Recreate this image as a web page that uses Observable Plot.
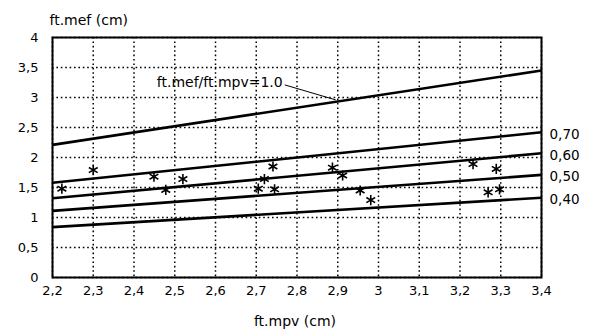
<!DOCTYPE html>
<html><head><meta charset="utf-8">
<script src="https://cdn.jsdelivr.net/npm/d3@7"></script>
<script src="https://cdn.jsdelivr.net/npm/@observablehq/plot@0.6"></script>
<style>
body{margin:0;background:#fff;}
svg{font-family:"DejaVu Sans",sans-serif;}
</style></head>
<body><div id="chart"></div>
<script>
// Scatter points (ft.mpv, ft.mef)
const ptX = [2.223, 2.30, 2.449, 2.478, 2.52, 2.705, 2.72, 2.741, 2.745, 2.887, 2.912, 2.955, 2.981, 3.232, 3.289, 3.269, 3.297];
const ptY = [1.48, 1.79, 1.68, 1.46, 1.64, 1.48, 1.64, 1.85, 1.47, 1.83, 1.70, 1.45, 1.29, 1.89, 1.81, 1.42, 1.47];
// Ratio lines, endpoints
const lineRatio = ["1.0", "0,70", "0,60", "0,50", "0,40"];
const lineX0 = [2.2, 2.2, 2.2, 2.2, 2.2];
const lineX1 = [3.4, 3.4, 3.4, 3.4, 3.4];
const lineY0 = [2.21, 1.58, 1.32, 1.11, 0.84];
const lineY1 = [3.45, 2.42, 2.07, 1.71, 1.33];
const rightLabels = ["0,70", "0,60", "0,50", "0,40"];
// Annotation
const annoText = "ft.mef/ft.mpv=1.0";
const annoX = [2.770, 2.895];
const annoY = [3.21, 2.96];
const annoTextX = 2.765, annoTextY = 3.245;
// Ticks
const xTicks = [2.2, 2.3, 2.4, 2.5, 2.6, 2.7, 2.8, 2.9, 3.0, 3.1, 3.2, 3.3, 3.4];
const yTicks = [0, 0.5, 1, 1.5, 2, 2.5, 3, 3.5, 4];
const xTitle = "ft.mpv (cm)";
const yTitle = "ft.mef (cm)";

const points = ptX.map((x, i) => ({x, y: ptY[i]}));
const segs = lineRatio.map((r, i) => ({r, x1: lineX0[i], y1: lineY0[i], x2: lineX1[i], y2: lineY1[i]}));
const labs = segs.slice(1).map((s, i) => ({x: s.x2, y: s.y2, t: rightLabels[i]}));
const fmt = d => String(d).replace(".", ",");

const plot = Plot.plot({
  width: 593, height: 336,
  marginTop: 37, marginRight: 52, marginBottom: 59, marginLeft: 52,
  style: {fontFamily: "DejaVu Sans, sans-serif", fontSize: "13px", color: "#000", background: "#fff"},
  x: {domain: [2.2, 3.4], ticks: xTicks, tickFormat: fmt, label: null},
  y: {domain: [0, 4], ticks: yTicks, tickFormat: fmt, label: null},
  marks: [
    Plot.gridX(xTicks, {stroke: "#000", strokeOpacity: 1, strokeDasharray: "1.6,2.8", strokeWidth: 1.5}),
    Plot.gridY(yTicks, {stroke: "#000", strokeOpacity: 1, strokeDasharray: "1.6,2.8", strokeWidth: 1.5}),
    Plot.axisX(xTicks, {tickSize: 0, tickPadding: 8, fontSize: 13, tickFormat: fmt, label: null}),
    Plot.axisY(yTicks, {tickSize: 0, tickPadding: 14, fontSize: 13, tickFormat: fmt, label: null}),
    Plot.link(segs, {x1: "x1", y1: "y1", x2: "x2", y2: "y2", stroke: "#000", strokeWidth: 2.6}),
    Plot.link([{x1: annoX[0], y1: annoY[0], x2: annoX[1], y2: annoY[1]}], {x1: "x1", y1: "y1", x2: "x2", y2: "y2", stroke: "#000", strokeWidth: 1}),
    Plot.text([annoText], {x: () => annoTextX, y: () => annoTextY, text: d => d, textAnchor: "end", fontSize: 14, fill: "#000"}),
    Plot.text(labs, {x: "x", y: "y", text: "t", textAnchor: "start", dx: 8, dy: 2, fontSize: 13.5, fill: "#000"}),
    Plot.dot(points, {x: "x", y: "y", symbol: "asterisk", r: 4.8, stroke: "#000", strokeWidth: 1.6}),
    Plot.frame({stroke: "#000", strokeWidth: 2}),
    Plot.text([yTitle], {frameAnchor: "top-left", text: d => d, textAnchor: "start", dx: -3, dy: -22, fontSize: 14, fill: "#000"}),
    Plot.text([xTitle], {frameAnchor: "bottom", text: d => d, dx: -2, dy: 48, fontSize: 14, fill: "#000"})
  ]
});
document.getElementById("chart").appendChild(plot);
</script>
</body></html>
